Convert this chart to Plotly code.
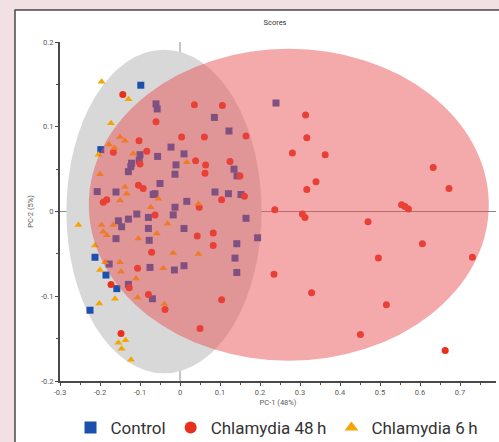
import plotly.graph_objects as go

# ---- data ----
control_x = [-0.098, 0.240, -0.060, -0.057, 0.086, 0.1225, -0.198, -0.100, -0.056, -0.0225,
             0.010, -0.102, -0.123, -0.121, -0.129, -0.010, 0.135, 0.1425, -0.050, -0.0125,
             -0.0625, -0.207, -0.160, 0.0875, 0.121, 0.1525, 0.017, -0.0125, -0.017, -0.108,
             -0.129, -0.154, -0.079, -0.146, -0.079, 0.010, 0.165, -0.160, -0.077, 0.194,
             0.142, 0.1375, -0.2125, -0.177, -0.075, 0.010, -0.014, 0.142, -0.185, -0.158,
             -0.129, -0.069, -0.225, -0.067]
control_y = [0.149, 0.128, 0.127, 0.121, 0.111, 0.095, 0.073, 0.067, 0.065, 0.076,
             0.068, 0.060, 0.053, 0.057, 0.047, 0.055, 0.050, 0.042, 0.033, 0.044,
             0.021, 0.0235, 0.023, 0.023, 0.021, 0.020, 0.012, 0.005, -0.004, -0.003,
             -0.009, -0.011, -0.007, -0.018, -0.020, -0.020, -0.008, -0.032, -0.034, -0.031,
             -0.038, -0.055, -0.054, -0.062, -0.066, -0.064, -0.069, -0.072, -0.075, -0.091,
             -0.086, -0.103, -0.1165, 0.020]

c48_x = [0.314, 0.317, 0.281, 0.363, 0.340, 0.317, 0.237, 0.306, 0.3125, 0.470,
         0.633, 0.6725, 0.554, 0.5625, 0.571, 0.606, 0.496, 0.731, 0.235, 0.329,
         0.516, 0.451, 0.663, 0.104, 0.050, -0.0375,
         -0.143, 0.036, 0.106, -0.060, 0.004, 0.061, 0.165, -0.1025, -0.083, -0.1667,
         0.039, 0.064, 0.125, -0.100, 0.0625, 0.150, -0.104, -0.092, -0.183, -0.192,
         0.104, 0.161, 0.048, -0.0625, 0.043, 0.083, 0.083, -0.071, -0.106, -0.1725,
         -0.127, -0.079, -0.1475]
c48_y = [0.114, 0.087, 0.069, 0.067, 0.035, 0.026, 0.002, -0.003, -0.007, -0.012,
         0.052, 0.027, 0.008, 0.006, 0.003, -0.038, -0.055, -0.054, -0.074, -0.096,
         -0.110, -0.145, -0.164, -0.104, -0.138, -0.1157,
         0.138, 0.126, 0.125, 0.106, 0.088, 0.088, 0.089, 0.0835, 0.071, 0.070,
         0.060, 0.055, 0.059, 0.056, 0.045, 0.042, 0.031, 0.027, 0.014, 0.011,
         0.014, 0.018, 0.005, -0.004, -0.029, -0.0255, -0.040, -0.048, -0.067, -0.086,
         -0.090, -0.098, -0.144]

c6_x = [-0.196, -0.129, -0.1725, -0.150, -0.1375, -0.1775, -0.164, -0.204, -0.117, 0.017,
        -0.200, -0.1375, -0.133, -0.150, -0.054, 0.046, -0.073, -0.031, -0.196, -0.167,
        -0.254, -0.058, -0.192, -0.183, -0.104, -0.2125, -0.017, 0.046, -0.1875, -0.150,
        -0.042, -0.200, -0.1475, -0.110, -0.1625, -0.106, -0.2017, -0.039, -0.136, -0.154,
        -0.146, -0.1225]
c6_y = [0.153, 0.1325, 0.104, 0.088, 0.0835, 0.079, 0.075, 0.067, 0.068, 0.058,
        0.044, 0.029, 0.021, 0.013, 0.015, 0.009, 0.005, -0.0145, -0.016, -0.016,
        -0.016, -0.026, -0.024, -0.028, -0.032, -0.040, -0.049, -0.050, -0.060, -0.060,
        -0.067, -0.069, -0.071, -0.079, -0.103, -0.1015, -0.1086, -0.109, -0.152, -0.155,
        -0.162, -0.175]

# confidence ellipses: centre x, centre y, half-width, half-height
grey_ellipse = [-0.040, 0.000, 0.244, 0.191]
red_ellipse = [0.272, 0.008, 0.500, 0.184]

x_ticks = [-0.3, -0.2, -0.1, 0, 0.1, 0.2, 0.3, 0.4, 0.5, 0.6, 0.7]
x_tick_labels = ["-0.3", "-0.2", "-0.1", "0", "0.1", "0.2", "0.3", "0.4", "0.5", "0.6", "0.7"]
y_ticks = [-0.2, -0.1, 0, 0.1, 0.2]
y_tick_labels = ["-0.2", "-0.1", "0", "0.1", "0.2"]

# ---- figure ----
fig = go.Figure()
fig.add_trace(go.Scatter(x=control_x, y=control_y, mode="markers", name="Control",
                         marker=dict(symbol="square", size=7, color="#1d4fae")))
fig.add_trace(go.Scatter(x=c48_x, y=c48_y, mode="markers", name="Chlamydia 48\u2009h",
                         marker=dict(symbol="circle", size=7, color="#e8301c")))
fig.add_trace(go.Scatter(x=c6_x, y=c6_y, mode="markers", name="Chlamydia 6\u2009h",
                         marker=dict(symbol="triangle-up", size=7, color="#f5a400")))

L, T, W, H = 60, 42, 436, 339
def px_x(p): return (p - L) / W
def px_y(p): return (T + H - p) / H

shapes = [
    # white card with dark border
    dict(type="rect", xref="paper", yref="paper", layer="below",
         x0=px_x(15), x1=px_x(520), y0=px_y(470), y1=px_y(10),
         fillcolor="white", line=dict(color="#4a4a4a", width=1.5)),
    dict(type="circle", xref="x", yref="y", layer="between",
         x0=grey_ellipse[0] - grey_ellipse[2], x1=grey_ellipse[0] + grey_ellipse[2],
         y0=grey_ellipse[1] - grey_ellipse[3], y1=grey_ellipse[1] + grey_ellipse[3],
         fillcolor="#d8d8d8", line=dict(width=0)),
    dict(type="line", xref="x", yref="paper", layer="between", x0=0, x1=0, y0=0, y1=1,
         line=dict(color="#8a8a8a", width=1)),
    dict(type="line", xref="paper", yref="y", layer="between", x0=0, x1=1, y0=0, y1=0,
         line=dict(color="#8a8a8a", width=1)),
    dict(type="circle", xref="x", yref="y", layer="above",
         x0=red_ellipse[0] - red_ellipse[2], x1=red_ellipse[0] + red_ellipse[2],
         y0=red_ellipse[1] - red_ellipse[3], y1=red_ellipse[1] + red_ellipse[3],
         fillcolor="rgba(233,82,82,0.49)", line=dict(width=0)),
]

axis_font = dict(family="Roboto", size=7.5, color="#5a5a5a")
fig.update_layout(
    width=499, height=442,
    margin=dict(l=L, r=499 - L - W, t=T, b=442 - T - H, autoexpand=False),
    paper_bgcolor="#f1e1e4", plot_bgcolor="rgba(0,0,0,0)",
    font=dict(family="Roboto", color="#333333"),
    title=dict(text="Scores", x=275 / 499, xanchor="center",
               y=1 - 22 / 442, yanchor="middle",
               font=dict(family="Roboto", size=7.5, color="#333333")),
    shapes=shapes,
    showlegend=True,
    legend=dict(orientation="h", x=px_x(277), xanchor="center", y=px_y(428), yanchor="middle",
                font=dict(family="Roboto", size=17, color="#333333"),
                bgcolor="rgba(0,0,0,0)", itemwidth=30, itemsizing="constant",
                traceorder="normal"),
    xaxis=dict(range=[-0.3, 0.79], tickvals=x_ticks, ticktext=x_tick_labels,
               showgrid=False, zeroline=False, showline=True, linecolor="#4a4a4a",
               linewidth=2, ticks="outside", ticklen=3, tickcolor="#4a4a4a",
               minor=dict(dtick=0.05, ticks="outside", ticklen=2, tickcolor="#4a4a4a"),
               tickfont=axis_font,
               title=dict(text="PC-1 (48%)", font=axis_font, standoff=4)),
    yaxis=dict(range=[-0.2, 0.2], tickvals=y_ticks, ticktext=y_tick_labels,
               showgrid=False, zeroline=False, showline=True, linecolor="#4a4a4a",
               linewidth=2, ticks="outside", ticklen=3, tickcolor="#4a4a4a",
               minor=dict(dtick=0.05, ticks="outside", ticklen=2, tickcolor="#4a4a4a"),
               tickfont=axis_font,
               title=dict(text="PC-2 (5%)", font=axis_font, standoff=6)),
)

fig.write_html("out.html")
